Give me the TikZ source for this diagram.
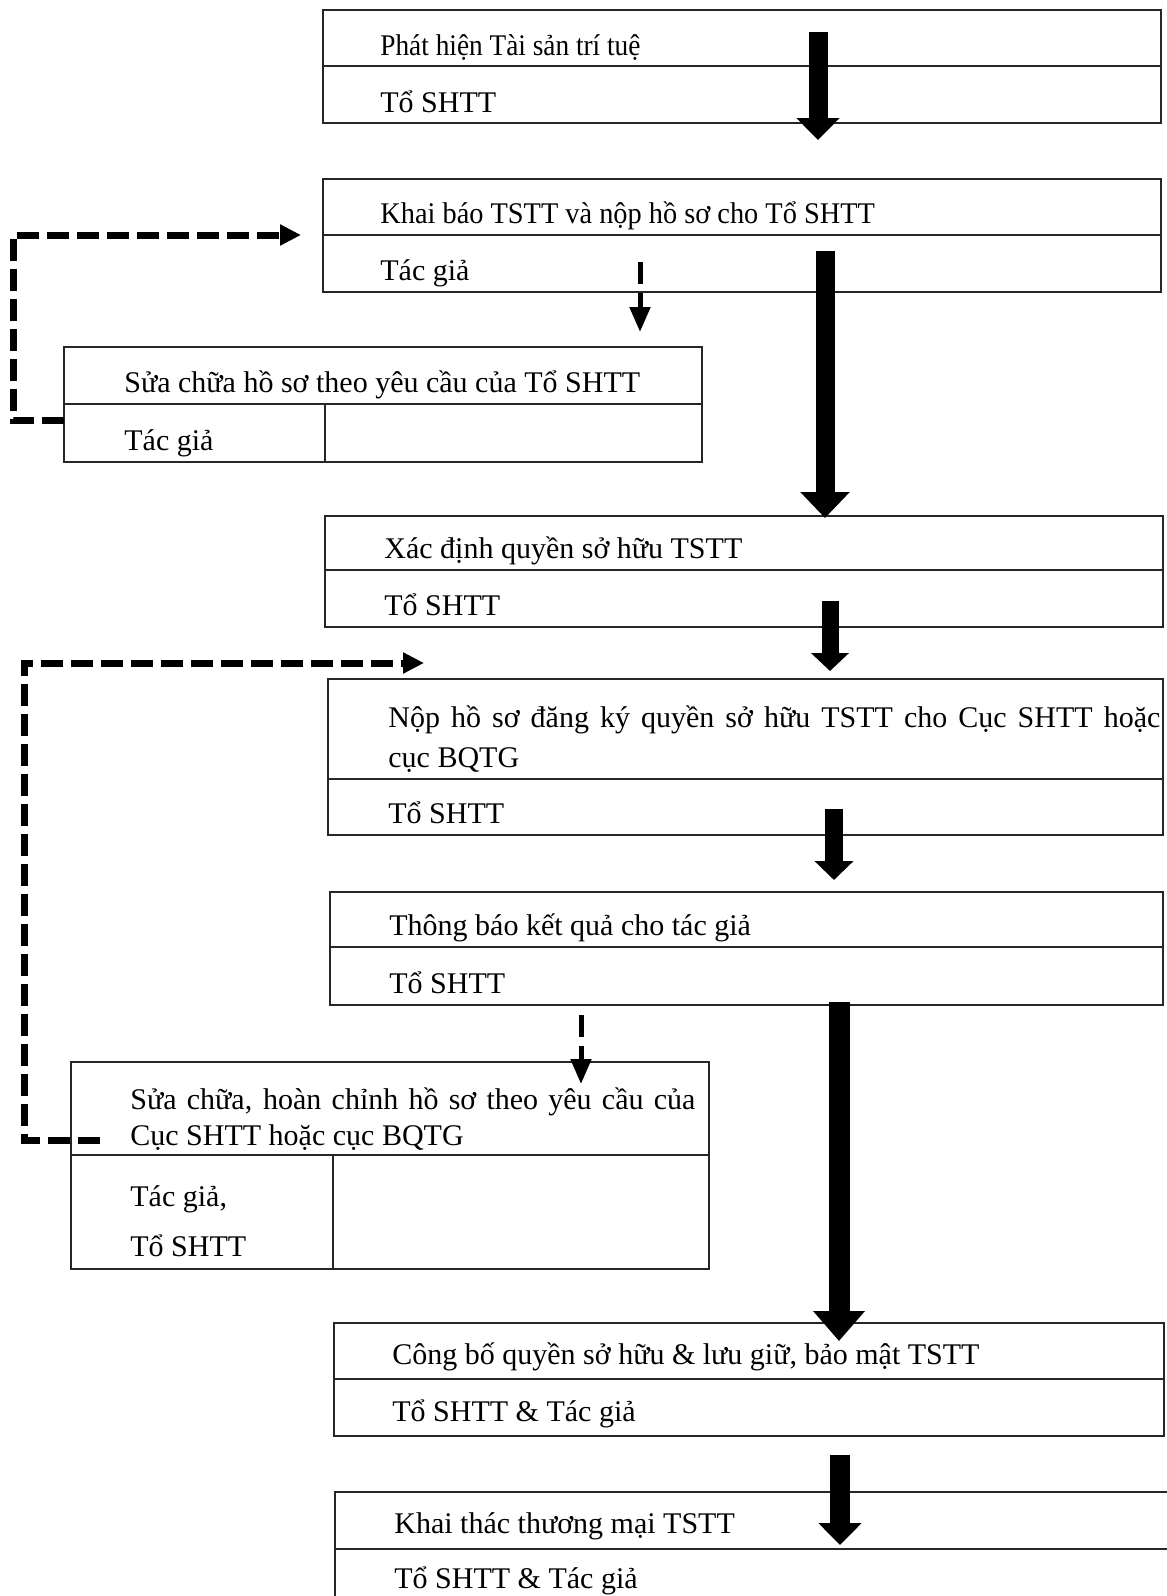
\documentclass[tikz,border=0pt]{standalone}
\usepackage{fontspec}
\setmainfont{Liberation Serif}
\usetikzlibrary{arrows.meta}
\tikzset{
  cell/.style={draw=black!85, line width=1pt, inner sep=0pt, outer sep=0pt, anchor=north west},
  lbl/.style={inner sep=0pt, anchor=base west, font=\fontsize{15pt}{19pt}\selectfont},
  fatarrow/.style n args={3}{draw=black, line width=#1pt, -{Triangle[width=#2pt,length=#3pt]}},
  dashbig/.style={draw=black, line width=3.5pt, dash pattern=on 11pt off 4pt, line join=miter, -{Triangle[width=10pt,length=10.5pt]}},
  dashsmall/.style={draw=black, line width=2.5pt, dash pattern=on 11pt off 4.5pt, -{Triangle[width=10pt,length=12.5pt]}}
}
\begin{document}
\begin{tikzpicture}[x=0.5pt, y=-0.5pt]
\useasboundingbox[fill=white] (0,0) rectangle (1167,1596);

% Box 1
\node[cell, minimum width=419pt, minimum height=28pt] (b1t) at (323,10) {};
\node[cell, minimum width=419pt, minimum height=28.5pt] (b1b) at (323,66) {};
\node[lbl] (t1a) at (380,55) {\scalebox{0.91}[1]{Phát hiện Tài sản trí tuệ}};
\node[lbl] (t1b) at (380,112) {Tổ SHTT};

% Box 2
\node[cell, minimum width=419pt, minimum height=28pt] (b2t) at (323,179) {};
\node[cell, minimum width=419pt, minimum height=28.5pt] (b2b) at (323,235) {};
\node[lbl] (t2a) at (380,223) {\scalebox{0.945}[1]{Khai báo TSTT và nộp hồ sơ cho Tổ SHTT}};
\node[lbl] (t2b) at (380,280) {Tác giả};

% Box 3
\node[cell, minimum width=319pt, minimum height=28.5pt] (b3t) at (64,347) {};
\node[cell, minimum width=130.5pt, minimum height=29pt] (b3bl) at (64,404) {};
\node[cell, minimum width=188.5pt, minimum height=29pt] (b3br) at (325,404) {};
\node[lbl] (t3a) at (124,392) {Sửa chữa hồ sơ theo yêu cầu của Tổ SHTT};
\node[lbl] (t3b) at (124,450) {Tác giả};

% Box 4
\node[cell, minimum width=419pt, minimum height=27pt] (b4t) at (325,516) {};
\node[cell, minimum width=419pt, minimum height=28.5pt] (b4b) at (325,570) {};
\node[lbl] (t4a) at (384,558) {Xác định quyền sở hữu TSTT};
\node[lbl] (t4b) at (384,615) {Tổ SHTT};

% Box 5
\node[cell, minimum width=417.5pt, minimum height=50pt] (b5t) at (328,679) {};
\node[cell, minimum width=417.5pt, minimum height=28pt] (b5b) at (328,779) {};
\node[lbl] (t5a) at (388,727) {\makebox[386pt][s]{Nộp hồ sơ đăng ký quyền sở hữu TSTT cho Cục SHTT hoặc}};
\node[lbl] (t5b) at (388,767) {cục BQTG};
\node[lbl] (t5c) at (388,823) {Tổ SHTT};

% Box 6
\node[cell, minimum width=416.5pt, minimum height=27.5pt] (b6t) at (330,892) {};
\node[cell, minimum width=416.5pt, minimum height=29pt] (b6b) at (330,947) {};
\node[lbl] (t6a) at (389,935) {Thông báo kết quả cho tác giả};
\node[lbl] (t6b) at (389,993) {Tổ SHTT};

% Box 7
\node[cell, minimum width=319pt, minimum height=46.5pt] (b7t) at (71,1062) {};
\node[cell, minimum width=131pt, minimum height=57pt] (b7bl) at (71,1155) {};
\node[cell, minimum width=188pt, minimum height=57pt] (b7br) at (333,1155) {};
\node[lbl] (t7a) at (130,1109) {\makebox[282.5pt][s]{Sửa chữa, hoàn chỉnh hồ sơ theo yêu cầu của}};
\node[lbl] (t7b) at (130,1145) {Cục SHTT hoặc cục BQTG};
\node[lbl] (t7c) at (130,1206) {Tác giả,};
\node[lbl] (t7d) at (130,1256) {Tổ SHTT};

% Box 8
\node[cell, minimum width=415pt, minimum height=28pt] (b8t) at (334,1323) {};
\node[cell, minimum width=415pt, minimum height=28.5pt] (b8b) at (334,1379) {};
\node[lbl] (t8a) at (392,1364) {Công bố quyền sở hữu \& lưu giữ, bảo mật TSTT};
\node[lbl] (t8b) at (392,1421) {Tổ SHTT \& Tác giả};

% Box 9 (cut by the page edge)
\node[cell, minimum width=420pt, minimum height=28.5pt] (b9t) at (335,1492) {};
\node[cell, minimum width=420pt, minimum height=32pt] (b9b) at (335,1549) {};
\node[lbl] (t9a) at (394,1533) {Khai thác thương mại TSTT};
\node[lbl] (t9b) at (394,1588) {Tổ SHTT \& Tác giả};

% thick arrows
\coordinate (a1s) at (818,32);   \coordinate (a1e) at (818,140);
\coordinate (a2s) at (825,251);  \coordinate (a2e) at (825,518);
\coordinate (a3s) at (830,601);  \coordinate (a3e) at (830,671);
\coordinate (a4s) at (834,809);  \coordinate (a4e) at (834,880);
\coordinate (a5s) at (839,1002); \coordinate (a5e) at (839,1341);
\coordinate (a6s) at (840,1455); \coordinate (a6e) at (840,1545);
\draw[fatarrow={9.5}{21}{11}] (a1s) -- (a1e);
\draw[fatarrow={9.5}{24}{13}] (a2s) -- (a2e);
\draw[fatarrow={8.5}{18.5}{9}] (a3s) -- (a3e);
\draw[fatarrow={9}{19}{9.5}] (a4s) -- (a4e);
\draw[fatarrow={10.5}{25}{15}] (a5s) -- (a5e);
\draw[fatarrow={10}{21}{11}] (a6s) -- (a6e);

% small dashed arrows
\coordinate (s1s) at (640,262); \coordinate (s1e) at (640,332);
\coordinate (s2s) at (581,1015); \coordinate (s2e) at (581,1084);
\draw[dashsmall] (s1s) -- (s1e);
\draw[dashsmall] (s2s) -- (s2e);

% dashed feedback loops
\draw[dashbig] ([yshift=6.5pt]b3bl.west) -- ++(-51,0) -- ++(0,-185) -- ([xshift=-11pt]b2t.south west);
\coordinate (d2e) at (424,663);
\draw[dashbig] ([xshift=14.5pt,yshift=7.5pt]b7t.south west) -- ++(-76,0) -- ++(0,-477) -- (d2e);
\end{tikzpicture}
\end{document}
